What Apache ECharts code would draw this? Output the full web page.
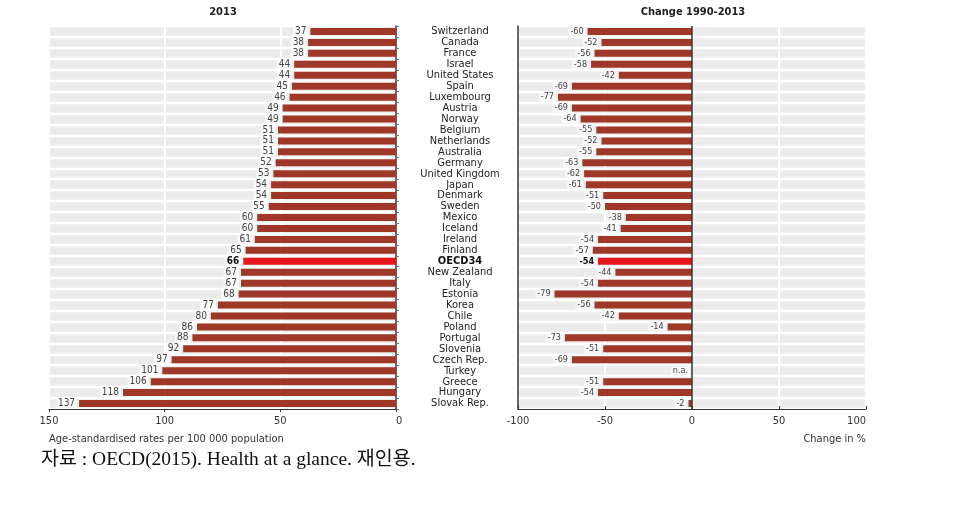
<!DOCTYPE html>
<html><head><meta charset="utf-8">
<script src="https://cdn.jsdelivr.net/npm/echarts@6/dist/echarts.min.js"></script>
<style>html,body{margin:0;padding:0;background:#fff}#c{width:966px;height:506px}</style>
</head><body><div id="c"></div>
<script>
const categories = ['Switzerland','Canada','France','Israel','United States','Spain','Luxembourg','Austria','Norway','Belgium','Netherlands','Australia','Germany','United Kingdom','Japan','Denmark','Sweden','Mexico','Iceland','Ireland','Finland','OECD34','New Zealand','Italy','Estonia','Korea','Chile','Poland','Portugal','Slovenia','Czech Rep.','Turkey','Greece','Hungary','Slovak Rep.'];
const rates2013 = [37,38,38,44,44,45,46,49,49,51,51,51,52,53,54,54,55,60,60,61,65,66,67,67,68,77,80,86,88,92,97,101,106,118,137];
const change19902013 = [-60,-52,-56,-58,-42,-69,-77,-69,-64,-55,-52,-55,-63,-62,-61,-51,-50,-38,-41,-54,-57,-54,-44,-54,-79,-56,-42,-14,-73,-51,-69,null,-51,-54,-2];
const leftTicks = [0,50,100,150];
const rightTicks = [-100,-50,0,50,100];
const highlight = 'OECD34';

const FONT = "'Liberation Sans Narrow','DejaVu Sans Condensed','Arial Narrow',sans-serif";
const BAR = '#a03829', HI = '#e5161d', BAND = '#ebebeb';
const hiIdx = categories.indexOf(highlight);

const leftData = rates2013.map((v,i)=>({value:v,
  itemStyle:{color:i===hiIdx?HI:BAR},
  label:i===hiIdx?{fontWeight:'bold',color:'#111'}:undefined}));
const rightData = change19902013.map((v,i)=>{
  if (v===null) return {value:0,label:{formatter:'n.a.'}};
  return {value:v,itemStyle:{color:i===hiIdx?HI:BAR},
    label:i===hiIdx?{fontWeight:'bold',color:'#111'}:undefined};
});

const chart = echarts.init(document.getElementById('c'));
const gridTop = 26, gridH = 383;
chart.setOption({
  animation:false,
  textStyle:{fontFamily:FONT},
  grid:[
    {left:49, right:966-396, top:gridTop, height:gridH},
    {left:518, right:966-866, top:gridTop, height:gridH}
  ],
  xAxis:[
    {gridIndex:0,type:'value',inverse:true,min:leftTicks[0],max:leftTicks[leftTicks.length-1],interval:leftTicks[1]-leftTicks[0],
     axisLine:{show:true,lineStyle:{color:'#333',width:1}},axisTick:{show:true,length:3,lineStyle:{color:'#333'}},
     axisLabel:{fontFamily:FONT,fontSize:11,color:'#333',margin:7,alignMinLabel:'left'},
     splitLine:{show:true,lineStyle:{color:'#fff',width:2}}},
    {gridIndex:1,type:'value',min:rightTicks[0],max:rightTicks[rightTicks.length-1],interval:rightTicks[1]-rightTicks[0],
     axisLine:{show:true,onZero:false,lineStyle:{color:'#333',width:1}},axisTick:{show:true,length:3,inside:true,lineStyle:{color:'#333'}},
     axisLabel:{fontFamily:FONT,fontSize:11,color:'#333',margin:7,alignMaxLabel:'right'},
     splitLine:{show:true,lineStyle:{color:'#fff',width:2}}}
  ],
  yAxis:[
    {gridIndex:0,type:'category',data:categories,inverse:true,position:'right',
     axisLine:{show:true,onZero:false,lineStyle:{color:'#333',width:1.5}},
     axisTick:{show:true,interval:0,length:3,lineStyle:{color:'#777'}},axisLabel:{show:false,interval:0},
     splitArea:{show:true,interval:0,areaStyle:{color:[BAND,BAND]}},
     splitLine:{show:true,interval:0,lineStyle:{color:'#fff',width:2.4}}},
    {gridIndex:1,type:'category',data:categories,inverse:true,position:'left',
     axisLine:{show:true,onZero:false,lineStyle:{color:'#333',width:1.5}},
     axisTick:{show:false,interval:0},
     axisLabel:{interval:0,fontFamily:FONT,fontSize:11,color:'#222',margin:58,align:'center',
       formatter:v=>v===highlight?'{b|'+v+'}':v,
       rich:{b:{fontFamily:FONT,fontSize:11,fontWeight:'bold',color:'#111'}}},
     splitArea:{show:true,interval:0,areaStyle:{color:[BAND,BAND]}},
     splitLine:{show:true,interval:0,lineStyle:{color:'#fff',width:2.4}}}
  ],
  series:[
    {type:'bar',xAxisIndex:0,yAxisIndex:0,data:leftData,barWidth:7,
     label:{show:true,position:'left',distance:2,fontFamily:FONT,fontSize:10,color:'#444',
       backgroundColor:'rgba(255,255,255,0.7)',padding:[0,2]}},
    {type:'bar',xAxisIndex:1,yAxisIndex:1,data:rightData,barWidth:7,
     label:{show:true,position:'left',distance:2,fontFamily:FONT,fontSize:9,color:'#444',
       backgroundColor:'rgba(255,255,255,0.6)',padding:[0,2]},
     markLine:{silent:true,symbol:'none',label:{show:false},
       lineStyle:{color:'#333',type:'solid',width:1.5},data:[{xAxis:0}]}}
  ],
  graphic:[
    {type:'text',style:{text:'2013',x:223,y:12,align:'center',verticalAlign:'middle',
      font:"bold 11px "+FONT,fill:'#222'}},
    {type:'text',style:{text:'Change 1990-2013',x:693,y:12,align:'center',verticalAlign:'middle',
      font:"bold 11px "+FONT,fill:'#222'}},
    {type:'text',style:{text:'Age-standardised rates per 100 000 population',x:49,y:439,align:'left',verticalAlign:'middle',
      font:"11px "+FONT,fill:'#333'}},
    {type:'text',style:{text:'Change in %',x:866,y:439,align:'right',verticalAlign:'middle',
      font:"11px "+FONT,fill:'#333'}},
    {type:'text',style:{text:'자료 : OECD(2015). Health at a glance. 재인용.',x:41,y:460,align:'left',verticalAlign:'middle',
      font:"19.5px 'Liberation Serif','Noto Sans CJK KR',serif",fill:'#111'}}
  ]
});
</script></body></html>
